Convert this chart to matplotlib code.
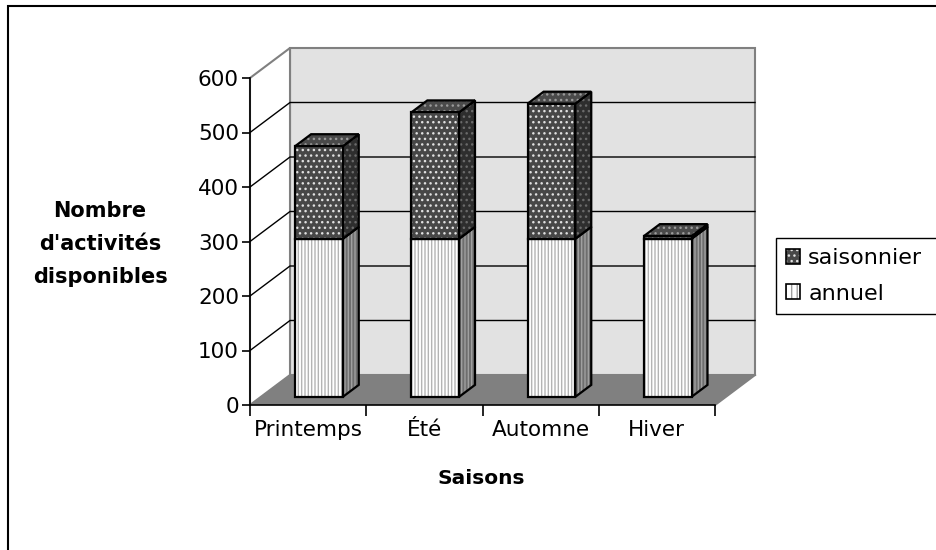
import matplotlib
matplotlib.use("Agg")
import matplotlib.pyplot as plt
from matplotlib.patches import Polygon, Patch, Rectangle

# data
saisons = ["Printemps", "Été", "Automne", "Hiver"]
annuel = [290, 290, 290, 290]
saisonnier = [170, 232, 248, 5]
yticks = [0, 100, 200, 300, 400, 500, 600]

plt.rcParams['font.family'] = ['DejaVu Sans']
plt.rcParams['hatch.linewidth'] = 1.0

W, H = 936, 550
fig = plt.figure(figsize=(W / 100, H / 100), dpi=100)
# axes covers the front plane of the 3D box
ax = fig.add_axes([250 / W, 145 / H, 465 / W, 327 / H])
ax.set_xlim(0, 4)
ax.set_ylim(0, 600)

# oblique depth offset (40 px right, 30 px up) in data units
DX = 40 * 4 / 465
DY = 30 * 600 / 327
BAR_W = 0.41
F0 = 0.27   # front face of the bars, as a fraction of depth
FD = 0.40   # bar depth


def poly(pts, fc, hc=None, hatch=None, ec='black', lw=1.6, z=2):
    ax.add_patch(Polygon(pts, closed=True, facecolor=fc, edgecolor='none', zorder=z, clip_on=False))
    if hatch:
        ax.add_patch(Polygon(pts, closed=True, fill=False, edgecolor=hc, hatch=hatch,
                             linewidth=0, zorder=z, clip_on=False))
    if ec is not None:
        ax.add_patch(Polygon(pts, closed=True, fill=False, edgecolor=ec, linewidth=lw,
                             zorder=z, clip_on=False, joinstyle='miter'))


# walls and floor
back = [(DX, DY), (4 + DX, DY), (4 + DX, 600 + DY), (DX, 600 + DY)]
poly(back, '#e2e2e2', ec='#808080', lw=1.5, z=0.5)
left = [(0, 0), (DX, DY), (DX, 600 + DY), (0, 600)]
poly(left, 'white', ec='#808080', lw=1.5, z=0.5)
for v in yticks[1:-1]:
    ax.plot([0, DX, 4 + DX], [v, v + DY, v + DY], color='black', lw=1, zorder=0.6, clip_on=False)
floor = [(0, 0), (4, 0), (4 + DX, DY), (DX, DY)]
poly(floor, '#808080', ec=None, z=0.7)
ax.plot([4, 4 + DX], [0, DY], color='#808080', lw=1.5, zorder=0.7, clip_on=False)

# bars
xs = [i + 0.5 + F0 * DX for i in range(len(saisons))]
y0 = F0 * DY
tot = [a + s for a, s in zip(annuel, saisonnier)]
ddx, ddy = FD * DX, FD * DY

for i, x in enumerate(xs):
    xr = x + BAR_W / 2
    # side faces
    poly([(xr, y0), (xr + ddx, y0 + ddy), (xr + ddx, y0 + annuel[i] + ddy), (xr, y0 + annuel[i])],
         '#6e6e6e', '#a0a0a0', '|||||', z=2)
    poly([(xr, y0 + annuel[i]), (xr + ddx, y0 + annuel[i] + ddy), (xr + ddx, y0 + tot[i] + ddy),
          (xr, y0 + tot[i])], '#2e2e2e', '#6a6a6a', '...', z=2)
    # top face
    xl = x - BAR_W / 2
    poly([(xl, y0 + tot[i]), (xr, y0 + tot[i]), (xr + ddx, y0 + tot[i] + ddy), (xl + ddx, y0 + tot[i] + ddy)],
         '#4a4a4a', '#9a9a9a', '...', z=2)

# front faces
ax.bar(xs, annuel, BAR_W, bottom=y0, color='white', edgecolor='#b4b4b4', hatch='|||||', linewidth=0, zorder=3)
ax.bar(xs, annuel, BAR_W, bottom=y0, fill=False, edgecolor='black', linewidth=1.6, zorder=3)
bot2 = [y0 + a for a in annuel]
ax.bar(xs, saisonnier, BAR_W, bottom=bot2, color='#474747', edgecolor='#e0e0e0', hatch='...', linewidth=0, zorder=3)
ax.bar(xs, saisonnier, BAR_W, bottom=bot2, fill=False, edgecolor='black', linewidth=1.6, zorder=3)

# axes
for s in ['top', 'right']:
    ax.spines[s].set_visible(False)
ax.spines['left'].set_linewidth(1.2)
ax.spines['bottom'].set_linewidth(1.2)
ax.spines['left'].set_zorder(4)
ax.spines['bottom'].set_zorder(4)
ax.set_yticks(yticks)
ax.tick_params(axis='y', length=6, width=1.2, labelsize=15.5, pad=2)
ax.set_xticks([0, 1, 2, 3, 4])
ax.set_xticklabels([])
ax.tick_params(axis='x', which='major', length=8, width=1.2)
ax.set_xticks([i + 0.5 for i in range(len(saisons))], minor=True)
ax.set_xticklabels(saisons, minor=True)
ax.tick_params(axis='x', which='minor', length=0, labelsize=15.5, pad=11)

fig.text(481 / W, 1 - 478 / H, "Saisons", ha='center', va='center', fontsize=14.5, fontweight='bold')
fig.text(100 / W, 1 - 244 / H, "Nombre\nd'activités\ndisponibles", ha='center', va='center',
         fontsize=15, fontweight='bold', linespacing=1.8)

# legend
h_sais = (Patch(facecolor='#474747', edgecolor='#e0e0e0', hatch='...', linewidth=0),
          Patch(fill=False, edgecolor='black', linewidth=1.2))
h_ann = (Patch(facecolor='white', edgecolor='#a0a0a0', hatch='|||', linewidth=0),
         Patch(fill=False, edgecolor='black', linewidth=1.2))
leg = fig.legend([h_sais, h_ann], ["saisonnier", "annuel"], loc='upper left',
                 bbox_to_anchor=(776 / W, 1 - 319 / H, 180 / W, 81 / H), mode='expand',
                 borderaxespad=0, fancybox=False, framealpha=1, edgecolor='black',
                 fontsize=16, handlelength=0.65, handleheight=0.65, handletextpad=0.35,
                 labelspacing=0.7, borderpad=0.45)
leg.get_frame().set_linewidth(1.0)

# outer chart border
fig.patches.append(Rectangle((8 / W, -0.1), 1.2, 1.1 - 6 / H, transform=fig.transFigure,
                             fill=False, edgecolor='black', linewidth=1.5))

fig.savefig("out.png", dpi=100)
